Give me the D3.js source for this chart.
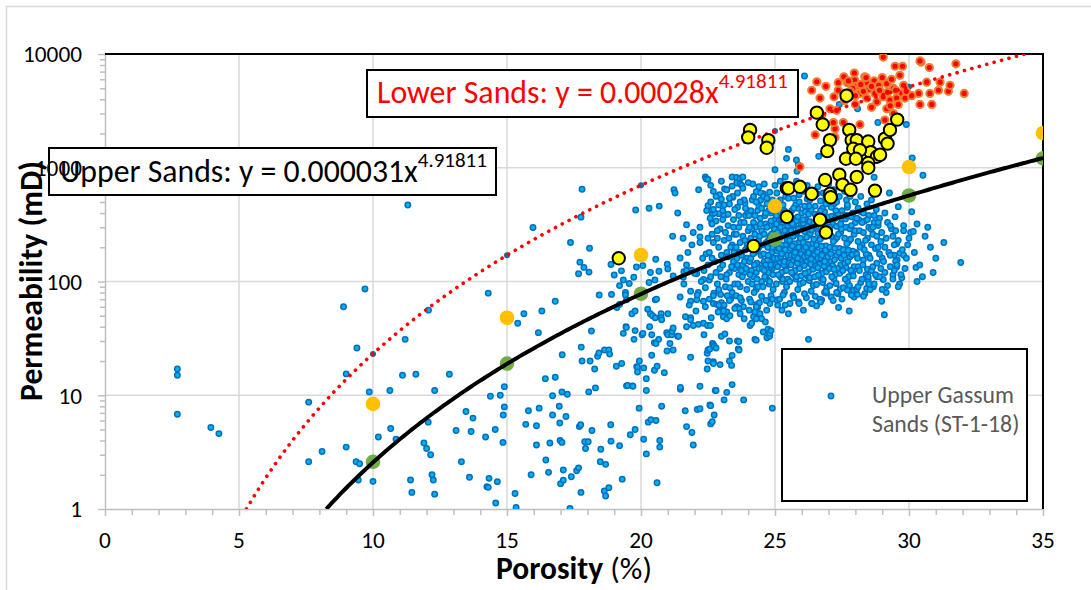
<!DOCTYPE html>
<html>
<head>
<meta charset="utf-8">
<script src="https://cdn.jsdelivr.net/npm/d3@7"></script>
<style>
body { margin: 0; background: #fff; }
svg { display: block; font-family: Carlito, Calibri, Lato, "Open Sans", sans-serif; }
</style>
</head>
<body>
<div id="chart"></div>
<script>
// axis ticks
var porosityTicks = [0, 5, 10, 15, 20, 25, 30, 35];
var permTicks = [1, 10, 100, 1000, 10000];

// model points at fixed porosity
var modelPorosity = [10, 15, 20, 25, 30, 35];
var modelPermGreen = [2.6, 19, 78, 235, 570, 1210];
var modelPermOrange = [8.4, 48, 171, 460, 1015, 2020];
var lowerModelPorosity = [10, 15, 20, 25, 30];
var lowerModelPerm = [23, 170, 700, 2100, 5150];

// trendline equations  y = a * x^b
var upperFit = [0.000031, 4.91811];
var lowerFit = [0.00028, 4.91811];
var upperLabel = ["Upper Sands: y = 0.000031x", "4.91811"];
var lowerLabel = ["Lower Sands: y = 0.00028x", "4.91811"];
var legendLines = ["Upper Gassum", "Sands (ST-1-18)"];

// [porosity %, permeability mD]
var upperGassum = [
[2.7,17],[2.7,15],[2.7,6.8],[3.95,5.2],[4.25,4.6],[7.6,8.7],[7.6,2.6],[8.1,3.2],[8.9,60],[9.0,3.5],[9.0,15.4],[9.37,2.6],[9.5,2.5],[9.45,1.8],[9.4,26],[9.7,86],[9.86,10.7],[10.0,1.75],[10.2,4.3],[10.63,11],[10.66,5.1],[10.86,4.1],[11.1,15],[11.2,31],[11.3,470],[11.4,1.8],[11.45,1.4],[11.6,15.3],[11.9,3.8],[12.0,3.4],[12.06,5.8],[12.07,56],[12.15,3.0],[12.2,2.0],[12.25,1.8],[12.3,11],[12.3,1.35],[12.85,15.3],[13.1,4.9],[13.3,2.6],[13.47,7.2],[13.6,1.9],[13.66,4.8],[13.73,6.3],[14.2,4.3],[14.25,1.57],[14.3,79],[14.3,1.55],[14.33,1.86],[14.38,9.8],[14.56,5.0],[14.58,1.13],[14.64,1.74],[14.75,10],[14.85,3.85],[14.86,6.7],[14.9,7.9],[14.9,11.9],[15.3,1.37],[15.34,1.03],[15.4,43],[15.63,52],[15.7,5.55],[15.8,7.3],[15.9,2.0],[15.97,298],[16.1,5.4],[16.1,3.65],[16.17,35.5],[16.2,7.7],[16.3,55],[16.43,14],[16.45,2.7],[16.55,2.1],[16.6,3.8],[16.7,9.9],[16.7,6.7],[16.8,67],[16.8,14.4],[16.95,8.0],[16.97,5.7],[16.98,4.0],[17.0,1.67],[17.05,10.7],[17.05,3.85],[17.06,22.7],[17.1,2.2],[17.1,1.79],[17.2,6.5],[17.25,10.2],[17.35,1.01],[17.37,220],[17.4,1.92],[17.6,2.17],[17.67,2.3],[17.67,117],[17.7,5.3],[17.72,148],[17.75,5.5],[17.76,1.4],[17.76,368],[17.77,26.5],[17.8,648],[17.8,20],[17.87,133],[17.9,3.9],[17.93,3.4],[18.03,3.9],[18.05,10.7],[18.06,121],[18.08,196],[18.1,20],[18.15,36.7],[18.17,4.9],[18.27,17],[18.3,11.6],[18.38,22],[18.43,23.5],[18.44,76],[18.48,2.6],[18.5,3.35],[18.63,1.44],[18.64,25],[18.68,2.47],[18.68,1.3],[18.8,1.54],[18.8,25],[18.83,23],[18.87,5.5],[18.88,3.95],[18.88,141],[18.9,77],[19.0,114],[19.08,18],[19.1,59],[19.2,3.6],[19.2,92],[19.2,63],[19.27,124],[19.28,19],[19.3,1.83],[19.34,103],[19.34,35],[19.42,80],[19.42,76],[19.44,40],[19.45,39.5],[19.46,12.1],[19.46,69],[19.5,12.2],[19.56,96],[19.6,4.5],[19.66,52],[19.68,12.1],[19.7,12],[19.73,109],[19.74,31],[19.78,5.0],[19.78,37],[19.78,55],[19.8,425],[19.83,134],[19.84,17.8],[19.87,17.6],[19.87,16],[19.93,7.7],[19.94,20],[20.04,34],[20.07,138],[20.07,35],[20.1,4.1],[20.1,17.4],[20.2,3.05],[20.2,11],[20.2,14],[20.25,57],[20.27,5.8],[20.3,98],[20.3,440],[20.32,40],[20.35,120],[20.35,52],[20.37,6.1],[20.4,34],[20.4,22.5],[20.43,50],[20.5,29],[20.5,16.6],[20.52,103],[20.53,69],[20.53,48],[20.55,157],[20.56,6.0],[20.56,28.5],[20.58,70],[20.6,1.7],[20.6,18],[20.66,31],[20.67,123],[20.68,460],[20.7,4.0],[20.7,3.5],[20.75,52],[20.75,48],[20.77,8.0],[20.77,46],[20.87,15.8],[20.96,35.5],[20.97,24.5],[20.98,142],[21.0,129],[21.0,34],[21.0,52],[21.08,28.5],[21.15,34],[21.16,36.5],[21.18,250],[21.2,25],[21.2,39],[21.2,112],[21.23,640],[21.27,600],[21.37,33],[21.37,400],[21.4,33],[21.46,161],[21.46,73],[21.47,11.3],[21.47,11.7],[21.57,240],[21.58,109],[21.6,122],[21.65,7.3],[21.7,5.3],[21.7,315],[21.7,125],[21.7,40],[21.66,49],[21.85,48],[21.85,82],[21.85,21.6],[21.85,67],[21.89,126],[21.9,4.7],[21.95,3.65],[21.95,41],[22.08,117],[22.08,69],[22.1,7.5],[22.14,80],[22.14,42],[22.2,12],[22.2,7.6],[22.2,247],[22.2,220],[22.33,67],[22.33,43],[22.33,104],[22.35,34],[22.4,830],[22.43,800],[22.43,175],[22.47,23.4],[22.47,17],[22.48,41],[22.5,25],[22.5,20],[22.5,463],[22.5,790],[22.55,103],[22.57,8.2],[22.57,25.5],[22.59,41],[22.6,5.6],[22.6,8.1],[22.64,330],[22.66,390],[22.66,5.85],[22.67,28.5],[22.7,28],[22.7,19.7],[22.7,64],[22.7,19],[22.72,79],[22.73,6.7],[22.73,27],[22.77,11],[22.8,26],[22.8,11],[22.82,63],[22.9,395],[22.93,580],[22.95,56],[22.95,18.6],[22.97,77],[23.0,530],[23.0,33],[23.06,59],[23.07,49],[23.1,470],[23.1,9.1],[23.13,34.5],[23.2,10.6],[23.2,54],[23.2,47],[23.3,30],[23.3,20],[23.32,50],[23.38,18.3],[23.4,12.4],[23.4,22.4],[23.4,830],[23.43,550],[23.57,820],[23.57,735],[23.57,60],[23.6,30],[23.63,25.5],[23.65,29.7],[23.66,25],[23.7,810],[23.7,720],[23.7,52],[23.8,830],[23.83,9.1],[23.85,47],[23.88,490],[24.04,56],[24.07,41],[24.13,43],[24.2,49],[24.25,54],[24.25,31],[24.3,47],[24.3,30.5],[24.3,615],[24.32,63],[24.35,59],[24.44,52],[24.47,520],[24.5,47],[24.56,36],[24.56,590],[24.64,44],[24.69,56],[24.7,32],[24.74,38],[24.8,33],[24.8,35],[24.81,64],[24.85,37],[24.9,7.7],[25.0,960],[25.06,69],[25.26,56],[25.38,830],[25.43,1210],[25.5,1450],[25.5,52],[25.56,64],[25.8,1170],[25.82,930],[25.87,1060],[26.06,56],[26.1,6400],[26.25,31],[26.37,64],[26.55,61],[26.63,1260],[26.74,69],[26.93,79],[27.1,73],[27.37,59],[27.4,3600],[27.77,55],[27.95,73],[28.07,77],[28.08,3300],[28.42,87],[28.42,105],[28.48,103],[28.67,90],[28.7,825],[28.8,110],[28.84,2500],[28.98,67],[29.04,104],[29.08,51],[29.27,600],[29.4,114],[29.44,170],[29.48,370],[29.54,134],[29.54,215],[29.56,155],[29.6,455],[29.66,177],[29.73,108],[29.8,170],[29.8,310],[29.9,2400],[30.06,270],[30.16,275],[30.12,1220],[30.26,133],[30.52,860],[31.93,147],
[21.6,95],[21.7,140],[21.8,62],[21.9,210],[22.0,118],[22.1,76],[22.2,300],[22.3,160],[22.4,88],[22.5,240],[21.75,180],[22.05,55],[22.35,125],[22.45,420],[21.95,270],[22.15,640],[22.25,100],[22.4,60],[21.85,46],[22.5,140],
[22.55,180],[22.6,110],[22.65,260],[22.7,75],[22.75,150],[22.8,340],[22.85,95],[22.9,200],[22.95,130],[23.0,65],[22.6,500],[22.7,220],[22.8,120],[22.9,85],[22.95,290],[22.55,70],[22.65,160],[22.75,400],[22.85,240],[23.0,170],[22.62,48],[22.88,54],[22.7,620],[22.98,110],[22.58,360],
[23.05,140],[23.1,230],[23.15,90],[23.2,180],[23.25,310],[23.3,120],[23.35,70],[23.4,210],[23.45,150],[23.5,95],[23.05,420],[23.1,62],[23.15,270],[23.2,115],[23.25,165],[23.3,480],[23.35,200],[23.4,80],[23.45,350],[23.5,130],[23.08,55],[23.18,105],[23.28,240],[23.38,135],[23.48,260],[23.12,650],[23.22,75],[23.32,88],[23.42,560],[23.47,180],
[23.55,200],[23.6,140],[23.65,300],[23.7,90],[23.75,170],[23.8,250],[23.85,120],[23.9,380],[23.95,160],[24.0,100],[23.55,75],[23.6,450],[23.65,115],[23.7,220],[23.75,68],[23.8,140],[23.85,520],[23.9,190],[23.95,85],[24.0,280],[23.58,160],[23.62,95],[23.68,180],[23.72,330],[23.78,110],[23.82,60],[23.88,230],[23.92,130],[23.98,400],[23.56,260],[23.66,58],[23.76,700],[23.86,150],[23.96,210],[23.74,125],
[24.05,150],[24.1,240],[24.15,95],[24.2,330],[24.25,180],[24.3,120],[24.35,420],[24.4,200],[24.45,140],[24.5,280],[24.05,70],[24.1,160],[24.15,520],[24.2,110],[24.25,260],[24.3,85],[24.35,190],[24.4,130],[24.45,360],[24.5,100],[24.08,210],[24.12,125],[24.18,175],[24.22,80],[24.28,300],[24.32,145],[24.38,230],[24.42,65],[24.48,170],[24.03,380],[24.13,290],[24.23,140],[24.33,105],[24.43,250],[24.47,600],[24.17,720],[24.27,200],[24.37,90],[24.07,115],[24.4,460],
[24.55,210],[24.6,150],[24.65,320],[24.7,105],[24.75,230],[24.8,165],[24.85,400],[24.9,130],[24.95,270],[25.0,190],[24.55,90],[24.6,260],[24.65,140],[24.7,480],[24.75,120],[24.8,310],[24.85,75],[24.9,200],[24.95,145],[25.0,350],[24.58,175],[24.62,110],[24.68,220],[24.72,155],[24.78,95],[24.82,250],[24.88,180],[24.92,115],[24.98,290],[24.53,130],[24.63,380],[24.73,200],[24.83,135],[24.93,85],[24.57,560],[24.67,68],[24.77,420],[24.87,260],[24.97,160],[24.6,125],[24.7,300],[24.8,100],[24.9,520],[24.75,170],[24.85,140],
[25.05,220],[25.1,160],[25.15,340],[25.2,110],[25.25,250],[25.3,180],[25.35,420],[25.4,130],[25.45,290],[25.5,200],[25.05,95],[25.1,270],[25.15,145],[25.2,520],[25.25,120],[25.3,330],[25.35,80],[25.4,210],[25.45,150],[25.5,380],[25.08,185],[25.12,115],[25.18,240],[25.22,165],[25.28,100],[25.32,260],[25.38,190],[25.42,125],[25.48,310],[25.03,140],[25.13,400],[25.23,210],[25.33,140],[25.43,90],[25.07,600],[25.17,70],[25.27,450],[25.37,280],[25.47,170],[25.1,135],[25.2,300],[25.3,105],[25.4,560],[25.25,175],[25.35,150],[25.45,230],[25.15,195],[25.05,320],[25.38,62],[25.48,105],
[25.55,230],[25.6,170],[25.65,360],[25.7,115],[25.75,260],[25.8,190],[25.85,440],[25.9,135],[25.95,300],[26.0,210],[25.55,100],[25.6,280],[25.65,150],[25.7,540],[25.75,125],[25.8,340],[25.85,85],[25.9,220],[25.95,155],[26.0,400],[25.58,195],[25.62,120],[25.68,250],[25.72,170],[25.78,105],[25.82,270],[25.88,200],[25.92,130],[25.98,320],[25.53,145],[25.63,420],[25.73,215],[25.83,145],[25.93,95],[25.57,640],[25.67,75],[25.77,470],[25.87,290],[25.97,175],[25.6,140],[25.7,310],[25.8,110],[25.9,580],[25.75,180],[25.85,160],[25.95,240],[25.65,205],[25.55,330],[25.88,66],[25.98,112],
[26.05,220],[26.1,165],[26.15,350],[26.2,112],[26.25,255],[26.3,185],[26.35,430],[26.4,132],[26.45,295],[26.5,205],[26.05,98],[26.1,275],[26.15,148],[26.2,530],[26.25,122],[26.3,335],[26.35,82],[26.4,215],[26.45,152],[26.5,390],[26.08,190],[26.12,118],[26.18,245],[26.22,168],[26.28,102],[26.32,265],[26.38,195],[26.42,128],[26.48,315],[26.03,142],[26.13,410],[26.23,212],[26.33,142],[26.43,92],[26.07,620],[26.17,72],[26.27,460],[26.37,285],[26.47,172],[26.1,138],[26.2,305],[26.3,108],[26.4,570],[26.25,178],[26.35,158],[26.45,235],[26.15,200],[26.05,325],[26.38,64],[26.48,110],
[26.55,210],[26.6,160],[26.65,340],[26.7,108],[26.75,245],[26.8,178],[26.85,410],[26.9,128],[26.95,285],[27.0,198],[26.55,94],[26.6,265],[26.65,142],[26.7,510],[26.75,118],[26.8,320],[26.85,80],[26.9,205],[26.95,146],[27.0,370],[26.58,182],[26.62,114],[26.68,235],[26.72,160],[26.78,98],[26.82,255],[26.88,188],[26.92,122],[26.98,300],[26.53,136],[26.63,390],[26.73,204],[26.83,136],[26.93,88],[26.57,590],[26.67,70],[26.77,440],[26.87,272],[26.97,165],[26.6,132],[26.7,292],[26.8,104],[26.9,545],[26.75,170],[26.85,150],
[27.05,200],[27.1,150],[27.15,320],[27.2,105],[27.25,235],[27.3,170],[27.35,390],[27.4,125],[27.45,270],[27.5,190],[27.05,92],[27.1,250],[27.15,138],[27.2,480],[27.25,115],[27.3,305],[27.35,78],[27.4,195],[27.45,140],[27.5,350],[27.08,175],[27.12,110],[27.18,225],[27.22,155],[27.28,96],[27.32,245],[27.38,180],[27.42,118],[27.48,290],[27.03,130],[27.13,375],[27.23,196],[27.33,130],[27.43,86],[27.07,560],[27.17,68],[27.27,420],[27.37,260],[27.47,160],[27.2,128],
[27.55,190],[27.6,145],[27.65,300],[27.7,100],[27.75,225],[27.8,165],[27.85,370],[27.9,120],[27.95,260],[28.0,180],[27.55,88],[27.6,240],[27.65,132],[27.7,450],[27.75,110],[27.8,290],[27.85,76],[27.9,185],[27.95,135],[28.0,330],[27.58,170],[27.62,105],[27.68,215],[27.72,150],[27.78,92],[27.82,235],[27.88,172],[27.92,112],[27.98,280],[27.53,125],[27.63,355],[27.73,188],[27.83,125],[27.93,84],[27.67,520],
[28.05,175],[28.1,135],[28.15,280],[28.2,98],[28.25,210],[28.3,155],[28.35,340],[28.4,115],[28.45,240],[28.5,170],[28.05,86],[28.1,225],[28.15,125],[28.2,410],[28.25,105],[28.3,270],[28.35,78],[28.4,175],[28.45,128],[28.5,300],[28.08,160],[28.18,200],[28.28,140],[28.38,230],[28.48,110],[28.13,350],[28.33,190],[28.43,480],
[28.55,160],[28.6,125],[28.65,260],[28.7,95],[28.75,195],[28.8,145],[28.85,310],[28.9,110],[28.95,225],[29.0,160],[28.55,85],[28.6,210],[28.7,380],[28.8,250],[28.9,175],[28.65,135],[28.75,115],[28.85,200],[28.95,130],[28.58,290],[28.78,430],[28.98,270],
[29.05,150],[29.1,120],[29.15,240],[29.2,92],[29.25,180],[29.3,135],[29.35,290],[29.4,105],[29.45,210],[29.5,150],[29.1,200],[29.2,330],[29.3,170],[29.4,250],[29.15,80],[29.45,125],
[29.55,140],[29.6,230],[29.7,115],[29.75,190],[29.8,280],[29.9,160],[29.95,210],[29.65,95],[29.85,130],[30.0,240],
[30.2,180],[30.4,140],[30.6,250],[30.3,320],[30.8,200],[30.5,110],[30.1,410],[31.0,160],[30.7,300],[31.3,220],
[22.6,700],[22.8,560],[23.0,760],[23.2,640],[23.4,690],[23.6,600],[23.8,660],[24.0,740],[24.2,560],[24.4,680],[24.6,720],[24.8,610],[25.0,700],[25.2,760],[25.4,620],[25.6,700],[25.8,760],[26.0,640],[26.2,700],[26.4,620],[26.6,680],[26.8,600],[27.0,720],[27.2,640],[27.4,560],[27.6,620],[27.8,560],[28.0,500],[28.2,560],[28.6,520],
[22.7,430],[22.9,470],[23.1,380],[23.3,540],[23.5,430],[23.7,500],[23.9,440],[24.1,420],[24.3,500],[24.5,440],[24.7,540],[24.9,420],[25.1,500],[25.3,470],[25.5,540],[25.7,440],[25.9,500],[26.1,460],[26.3,520],[26.5,460],[26.7,420],[26.9,480],[27.1,450],[27.3,500],[27.5,420],[27.7,470],[27.9,400],[28.1,440],[28.3,400],[28.5,380],[28.7,330],[28.9,360],[29.1,400],[29.3,310],[29.5,280],
[22.65,320],[22.85,280],[23.05,350],[23.25,390],[23.45,300],[23.65,380],[23.85,330],[24.05,300],[24.25,380],[24.45,320],[24.65,400],[24.85,340],[25.05,380],[25.25,350],[25.45,400],[25.65,320],[25.85,370],[26.05,350],[26.25,390],[26.45,330],[26.65,370],[26.85,340],[27.05,300],[27.25,360],[27.45,320],[27.65,380],[27.85,310],[28.05,360],[28.25,330],[28.45,350],[28.65,300],[28.85,330],
[22.9,62],[23.3,68],[23.7,72],[24.1,66],[24.5,74],[24.9,70],[25.3,76],[25.7,72],[26.1,78],[26.5,74],[26.9,82],[27.3,80],[27.7,84],[28.1,90],[28.5,95],[23.5,58],[24.3,60],[25.1,62],[25.9,64],[26.7,66],[27.5,70],[28.3,74],[29.0,85],[29.6,90],[30.3,100],[30.9,120]
];

var lowerSands = [
[29.04,9400],[29.48,7800],[29.76,7800],[30.45,8500],[30.76,7600],[31.75,8200],[27.57,6300],[27.96,6800],[27.97,5900],[28.35,6300],[26.56,5700],[26.37,4800],[27.36,5600],[27.36,4800],[27.7,5600],[28.02,5200],[28.42,5600],[28.7,5800],[28.87,5300],[29.17,5500],[29.35,6000],[29.66,6500],[29.42,5000],[29.8,5300],[29.73,4500],[26.68,4100],[27.05,3300],[27.3,3200],[26.74,2900],[27.55,2500],[27.24,2200],[27.24,1850],[26.5,1950],[28.17,4500],[28.42,4100],[28.73,4500],[29.04,4200],[29.29,3940],[29.54,4100],[29.85,4100],[29.6,3600],[29.17,3300],[29.42,3000],[29.1,2630],[30.36,4500],[30.78,4500],[30.41,3600],[30.85,3600],[31.1,4800],[31.47,4700],[31.53,5300],[32.06,4500],[31.16,5650],[30.66,5650],[25.93,1020],[27.74,5800],[27.9,5000],[28.2,5400],[28.5,4900],[28.0,4300],[28.6,5200],[28.3,4700],[27.8,4700],[28.9,4800],[29.2,4600],[28.8,3800],[29.5,4800],[27.18,2500],[28.17,2400],[28.0,3600],[27.6,3900],[28.6,3400],[29.3,3500],[30.1,4300],[29.9,4700],[28.4,6200],[29.0,6200],[27.2,4200],[26.9,5200],[30.41,8700]
];

var selectedSamples = [
[27.67,4300],[26.56,3050],[26.78,2400],[24.07,2150],[24.0,1850],[24.75,1750],[24.69,1500],[27.05,1750],[26.95,1400],[27.77,2150],[27.86,1750],[28.05,1750],[28.48,1700],[28.57,1370],[28.8,1250],[28.48,1100],[28.48,1000],[27.92,1470],[28.17,1430],[27.65,1200],[28.02,1200],[29.1,1800],[29.29,2150],[29.56,2650],[29.2,1630],[28.92,1300],[27.4,870],[28.05,830],[27.52,710],[27.82,640],[28.73,630],[26.87,780],[27.05,590],[27.08,550],[25.44,660],[25.5,660],[25.93,680],[26.37,590],[25.44,370],[26.68,350],[26.9,270],[24.2,205],[19.17,160]
];

var W = 1091, H = 590;
var svg = d3.select("#chart").append("svg")
  .attr("width", W).attr("height", H);

// chart border
svg.append("rect")
  .attr("x", 6.5).attr("y", 6.5).attr("width", 1100).attr("height", 600)
  .attr("fill", "#fff").attr("stroke", "#d9d9d9").attr("stroke-width", 1.5);

var x = d3.scaleLinear().domain([0, 35]).range([105, 1043]);
var y = d3.scaleLog().domain([1, 10000]).range([509, 54]);

// gridlines
svg.append("g").selectAll("line")
  .data(porosityTicks.filter(function(d) { return d > 0 && d < 35; }))
  .enter().append("line")
    .attr("x1", function(d) { return x(d); }).attr("x2", function(d) { return x(d); })
    .attr("y1", y(10000)).attr("y2", y(1))
    .attr("stroke", "#d9d9d9").attr("stroke-width", 1.5);
svg.append("g").selectAll("line")
  .data(permTicks.filter(function(d) { return d > 1 && d < 10000; }))
  .enter().append("line")
    .attr("x1", x(0)).attr("x2", x(35))
    .attr("y1", function(d) { return y(d); }).attr("y2", function(d) { return y(d); })
    .attr("stroke", "#d9d9d9").attr("stroke-width", 1.5);

// axes (lines and ticks)
var axisColor = "#bfbfbf";
var minorX = d3.range(0, 36).filter(function(d) { return d % 5 != 0; });
var minorY = [];
[1, 10, 100, 1000].forEach(function(dec) {
  for (var k = 2; k < 10; k++) minorY.push(dec * k);
});

var gx = svg.append("g").attr("transform", "translate(0," + y(1) + ")")
  .call(d3.axisBottom(x).tickValues(porosityTicks).tickSize(7).tickSizeOuter(0).tickFormat(""));
var gxm = svg.append("g").attr("transform", "translate(0," + y(1) + ")")
  .call(d3.axisBottom(x).tickValues(minorX).tickSize(6).tickFormat(""));
gxm.select(".domain").remove();
var gy = svg.append("g").attr("transform", "translate(" + x(0) + ",0)")
  .call(d3.axisLeft(y).tickValues(permTicks).tickSize(7).tickSizeOuter(0).tickFormat(""));
var gym = svg.append("g").attr("transform", "translate(" + x(0) + ",0)")
  .call(d3.axisLeft(y).tickValues(minorY).tickSize(5).tickFormat(""));
gym.select(".domain").remove();
[gx, gxm, gy, gym].forEach(function(g) {
  g.selectAll("path, line").attr("stroke", axisColor).attr("stroke-width", 1.5);
});

// top and right frame
svg.append("path")
  .attr("d", "M" + x(0) + "," + y(10000) + "H" + x(35) + "V" + y(1))
  .attr("fill", "none").attr("stroke", "#000").attr("stroke-width", 2);

// clip to plot area
svg.append("clipPath").attr("id", "plotclip").append("rect")
  .attr("x", x(0)).attr("y", y(10000))
  .attr("width", x(35) - x(0)).attr("height", y(1) - y(10000));
var plot = svg.append("g").attr("clip-path", "url(#plotclip)");

// Upper Gassum scatter
plot.append("g").selectAll("circle")
  .data(upperGassum).enter().append("circle")
    .attr("cx", function(d) { return x(d[0]); })
    .attr("cy", function(d) { return y(d[1]); })
    .attr("r", 2.7)
    .attr("fill", "#00b0f0").attr("stroke", "#0070c0").attr("stroke-width", 1.5);

// lower model points
plot.append("g").selectAll("circle")
  .data(lowerModelPorosity).enter().append("circle")
    .attr("cx", function(d) { return x(d); })
    .attr("cy", function(d, i) { return y(lowerModelPerm[i]); })
    .attr("r", 3).attr("fill", "#2e5f92");

// Lower sands scatter
plot.append("g").selectAll("circle")
  .data(lowerSands).enter().append("circle")
    .attr("cx", function(d) { return x(d[0]); })
    .attr("cy", function(d) { return y(d[1]); })
    .attr("r", 3.6)
    .attr("fill", "#ff0000").attr("stroke", "#ed7d31").attr("stroke-width", 2);

// model points orange / green
plot.append("g").selectAll("circle")
  .data(modelPorosity).enter().append("circle")
    .attr("cx", function(d) { return x(d); })
    .attr("cy", function(d, i) { return y(modelPermOrange[i]); })
    .attr("r", 7.3).attr("fill", "#ffc000");
plot.append("g").selectAll("circle")
  .data(modelPorosity).enter().append("circle")
    .attr("cx", function(d) { return x(d); })
    .attr("cy", function(d, i) { return y(modelPermGreen[i]); })
    .attr("r", 7.3).attr("fill", "#70ad47");

// trendlines
function fitCurve(fit) {
  var x0 = Math.pow(1 / fit[0], 1 / fit[1]);
  var pts = d3.range(x0, 35, 0.1).concat([35]);
  return pts.map(function(p) { return [p, fit[0] * Math.pow(p, fit[1])]; });
}
var line = d3.line()
  .x(function(d) { return x(d[0]); })
  .y(function(d) { return y(d[1]); });

plot.append("path")
  .datum(fitCurve(lowerFit))
  .attr("d", line)
  .attr("fill", "none").attr("stroke", "#ff0000")
  .attr("stroke-width", 3.6).attr("stroke-linecap", "round")
  .attr("stroke-dasharray", "0.1,7.6");
plot.append("path")
  .datum(fitCurve(upperFit))
  .attr("d", line)
  .attr("fill", "none").attr("stroke", "#000").attr("stroke-width", 4);

// selected samples (yellow)
plot.append("g").selectAll("circle")
  .data(selectedSamples).enter().append("circle")
    .attr("cx", function(d) { return x(d[0]); })
    .attr("cy", function(d) { return y(d[1]); })
    .attr("r", 6.2)
    .attr("fill", "#ffff00").attr("stroke", "#000").attr("stroke-width", 2);

// fit text width helper
function fitWidth(t, w) {
  var len = t.node().getComputedTextLength();
  var fs = parseFloat(t.attr("font-size"));
  t.attr("font-size", fs * w / len);
}

// equation boxes
function eqBox(bx, by, bw, bh, tx, ty, tw, parts, color) {
  svg.append("rect").attr("x", bx).attr("y", by).attr("width", bw).attr("height", bh)
    .attr("fill", "#fff").attr("stroke", "#000").attr("stroke-width", 2);
  var t = svg.append("text").attr("x", tx).attr("y", ty)
    .attr("font-size", 26).attr("fill", color);
  t.append("tspan").text(parts[0]);
  t.append("tspan").attr("font-size", "0.66em").attr("dy", "-0.7em").text(parts[1]);
  fitWidth(t, tw);
}
eqBox(367, 70, 431, 47, 377, 103, 411, lowerLabel, "#ff0000");
eqBox(49, 148, 447, 47, 60, 182, 427, upperLabel, "#000");

// tick labels on top, sized so "10000" spans the same width as the reference
var probe = svg.append("text").attr("font-size", 20).text("10000");
fitWidth(probe, 59);
var labelFont = probe.attr("font-size");
probe.remove();

svg.append("g").selectAll("text")
  .data(porosityTicks).enter().append("text")
    .attr("x", function(d) { return x(d); }).attr("y", 548)
    .attr("text-anchor", "middle").attr("font-size", labelFont).attr("fill", "#000")
    .text(function(d) { return d; });
svg.append("g").selectAll("text")
  .data(permTicks).enter().append("text")
    .attr("x", 82).attr("y", function(d) { return y(d); }).attr("dy", "0.36em")
    .attr("text-anchor", "end").attr("font-size", labelFont).attr("fill", "#000")
    .text(function(d) { return d; });

// axis titles
var yt = svg.append("text")
  .attr("transform", "translate(42,281) rotate(-90)")
  .attr("text-anchor", "middle").attr("font-size", 26).attr("font-weight", "bold")
  .attr("fill", "#000").text("Permeability (mD)");
fitWidth(yt, 240);
var xt = svg.append("text")
  .attr("x", 574).attr("y", 579).attr("text-anchor", "middle")
  .attr("font-size", 26).attr("fill", "#000");
xt.append("tspan").attr("font-weight", "bold").text("Porosity");
xt.append("tspan").text(" (%)");
fitWidth(xt, 156);

// legend
var lg = svg.append("g");
lg.append("rect").attr("x", 782).attr("y", 349).attr("width", 245).attr("height", 152)
  .attr("fill", "#fff").attr("stroke", "#000").attr("stroke-width", 2);
lg.append("circle").attr("cx", 831).attr("cy", 396).attr("r", 2.7)
  .attr("fill", "#00b0f0").attr("stroke", "#0070c0").attr("stroke-width", 1.5);
var lt = lg.append("text").attr("x", 872).attr("y", 403)
  .attr("font-size", 20).attr("fill", "#595959").text(legendLines[0]);
fitWidth(lt, 142);
lg.append("text").attr("x", 872).attr("y", 432)
  .attr("font-size", lt.attr("font-size")).attr("fill", "#595959").text(legendLines[1]);
</script>
</body>
</html>
